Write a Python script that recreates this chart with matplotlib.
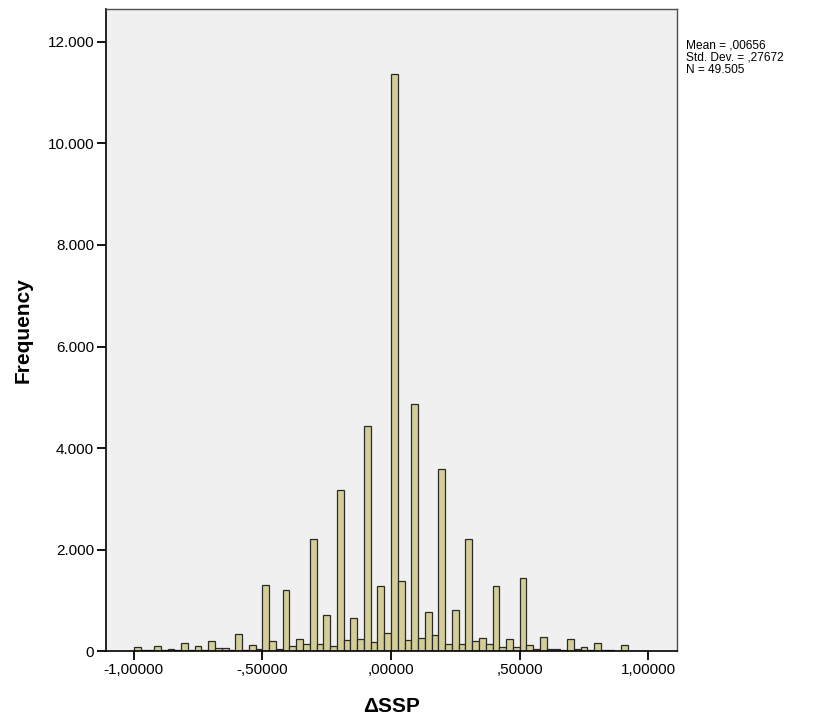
import numpy as np
import matplotlib.pyplot as plt

# histogram of delta SSP, 76 equal bins between -1 and 1
bin_lo = -1.0
bin_hi = 1.0
counts = [
    80, 20, 20, 110, 30, 40, 25, 170, 30, 95,
    35, 205, 60, 70, 30, 335, 25, 115, 45, 1310,
    200, 55, 1215, 110, 250, 145, 2215, 145, 720, 110,
    3170, 230, 650, 245, 4440, 180, 1295, 355, 11360, 1390,
    225, 4860, 262, 776, 328, 3590, 144, 810, 144, 2205,
    197, 255, 144, 1290, 80, 243, 90, 1440, 118, 55,
    290, 45, 55, 28, 250, 45, 78, 28, 168, 20,
    20, 13, 115, 13, 13, 13,
]
x_ticks = [-1.0, -0.5, 0.0, 0.5, 1.0]
x_ticklabels = ["-1,00000", "-,50000", ",00000", ",50000", "1,00000"]
y_ticks = [0, 2000, 4000, 6000, 8000, 10000, 12000]
y_ticklabels = ["0", "2.000", "4.000", "6.000", "8.000", "10.000", "12.000"]
stats_text = "Mean = ,00656\nStd. Dev. = ,27672\nN = 49.505"

plt.rcParams['font.family'] = ['Liberation Sans', 'DejaVu Sans']

edges = np.linspace(bin_lo, bin_hi, len(counts) + 1)

fig = plt.figure(figsize=(8.2, 7.17), dpi=100)
ax = fig.add_axes([0.1293, 0.0916, 0.6963, 0.8958])
ax.set_facecolor('#F0F0F0')

ax.bar(edges[:-1], counts, width=np.diff(edges), align='edge',
       color='#D3CE97', edgecolor='#2a2a2a', linewidth=0.9)

ax.set_xlim(-1.1077, 1.1115)
ax.set_ylim(0, 12644)

ax.set_xticks(x_ticks)
ax.set_xticklabels(x_ticklabels, fontsize=11)
ax.set_yticks(y_ticks)
ax.set_yticklabels(y_ticklabels, fontsize=11)
ax.tick_params(axis='both', direction='out', length=6.5, width=1.3,
               color='black', pad=2)

for side in ['left', 'bottom']:
    ax.spines[side].set_color('black')
    ax.spines[side].set_linewidth(1.2)
for side in ['top', 'right']:
    ax.spines[side].set_color('#505050')
    ax.spines[side].set_linewidth(1.0)

ax.set_xlabel("ΔSSP", fontsize=15, fontweight='bold', labelpad=14)
ax.set_ylabel("Frequency", fontsize=15, fontweight='bold', labelpad=11)

fig.text(686 / 820, 1 - 40 / 717, stats_text, fontsize=8.6, va='top', ha='left',
         linespacing=1.0)

fig.savefig("out.png", dpi=100)
